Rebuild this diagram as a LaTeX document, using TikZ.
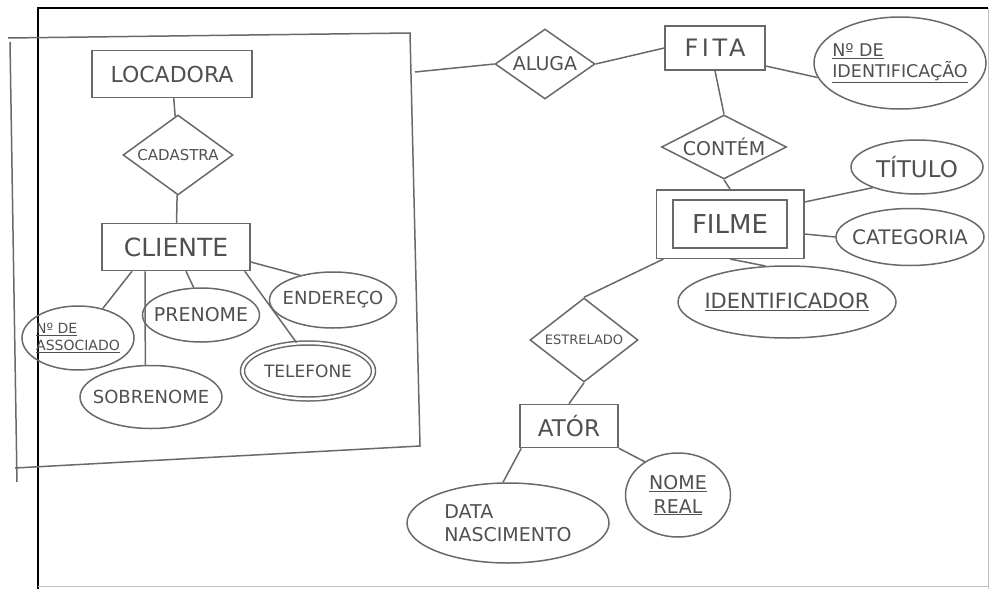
\documentclass[tikz,border=0pt]{standalone}
\usepackage{fontspec}
\setmainfont{DejaVu Sans}
\usetikzlibrary{shapes.geometric,fit}
\definecolor{pencil}{RGB}{105,105,105}
\definecolor{ink}{RGB}{80,80,80}
\newcommand\fsz[2]{\fontsize{#1}{#2}\selectfont}
\begin{document}
\begin{tikzpicture}[x=1pt,y=-1pt,
  base/.style={draw=pencil, line width=1.5pt, text=ink, inner sep=0pt, align=center},
  ent/.style={base, rectangle},
  rel/.style={base, diamond},
  att/.style={base, ellipse, inner xsep=-25pt, inner ysep=-15pt},
  conn/.style={draw=pencil, line width=1.5pt},
  frame/.style={draw=black, line width=1.3pt},
  faint/.style={draw=black!25, line width=0.8pt}]
\useasboundingbox (0,0) rectangle (990,589);
\fill[white] (0,0) rectangle (990,589);

% page frame
\draw[frame] (38,589) -- (38,8) -- (988,8);
\draw[faint] (988,8) -- (988,589);
\draw[faint] (38,586) -- (988,586);

% aggregation box (pencil)
\draw[conn] (8,38) -- (410,33) -- (420,446) -- (15,468);
\draw[conn] (10,42) -- (17,482);
\coordinate (aggE) at (415,72);

% left part
\node[ent, minimum width=160, minimum height=47, font=\fsz{22}{24}] (loc) at (172,74) {LOCADORA};
\node[rel, minimum width=110, minimum height=80, aspect=1.375, font=\fsz{15}{16}] (cad) at (178,155) {CADASTRA};
\node[ent, minimum width=148, minimum height=47, font=\fsz{25}{27}] (cli) at (176,247) {CLIENTE};
\node[att, minimum width=112, minimum height=64, align=left, font=\fsz{14}{17}] (assoc) at (78,338) {\underline{Nº DE}\\\underline{ASSOCIADO}};
\node[att, minimum width=117, minimum height=54, font=\fsz{19}{20}] (pre) at (201,315) {PRENOME};
\node[att, minimum width=127, minimum height=56, font=\fsz{18}{20}] (endr) at (333,300) {ENDEREÇO};
\node[att, minimum width=131, minimum height=56, double=white, double distance=2.5pt, font=\fsz{17}{19}] (tel) at (308,371) {TELEFONE};
\node[att, minimum width=142, minimum height=63, font=\fsz{18}{20}] (sob) at (151,397) {SOBRENOME};

\draw[conn] (loc) -- (cad);
\draw[conn] (cad) -- (cli);
\draw[conn] ([xshift=-44pt]cli.south) -- (assoc.50);
\draw[conn] ([xshift=-31pt]cli.south) -- (sob.100);
\draw[conn] ([xshift=10pt]cli.south) -- (pre.105);
\draw[conn] ([xshift=-6pt]cli.south east) -- (tel.112);
\draw[conn] ([yshift=-15pt]cli.east) -- (endr.143);

% right part
\node[rel, minimum width=100, minimum height=70, aspect=1.43, font=\fsz{19}{20}] (alu) at (545,64) {ALUGA};
\node[ent, minimum width=100, minimum height=44, font=\fsz{24}{26}\addfontfeatures{LetterSpace=15}] (fita) at (715,48) {FITA};
\node[att, minimum width=172, minimum height=92, align=left, font=\fsz{17.5}{21}] (nid) at (900,63) {\underline{Nº DE}\\\underline{IDENTIFICAÇÃO}};
\node[rel, minimum width=125, minimum height=64, aspect=1.95, font=\fsz{19}{20}] (con) at (724,147) {CONTÉM};
\node[ent, minimum width=114, minimum height=48, font=\fsz{26}{28}] (filme) at (730,224) {FILME};
\node[ent, fit=(filme), inner xsep=16pt, inner ysep=9.5pt] (filmeo) {};
\node[att, minimum width=132, minimum height=54, font=\fsz{23}{25}] (tit) at (917,167) {TÍTULO};
\node[att, minimum width=148, minimum height=57, font=\fsz{20}{22}] (cat) at (910,237) {CATEGORIA};
\node[att, minimum width=218, minimum height=72, font=\fsz{21}{23}] (idf) at (787,302) {\underline{IDENTIFICADOR}};
\node[rel, minimum width=108, minimum height=84, aspect=1.29, font=\fsz{13}{14}] (est) at (584,340) {ESTRELADO};
\node[ent, minimum width=98, minimum height=43, font=\fsz{23}{25}] (ator) at (569,426) {ATÓR};
\node[att, minimum width=202, minimum height=80, align=left, font=\fsz{19}{23}] (data) at (508,523) {DATA\\NASCIMENTO};
\node[att, minimum width=105, minimum height=84, font=\fsz{19}{24}] (nome) at (678,495) {\underline{NOME}\\\underline{REAL}};

\draw[conn] (alu.west) -- (aggE);
\draw[conn] (alu.east) -- (fita.west);
\draw[conn] ([yshift=-18pt]fita.east) -- (nid.190);
\draw[conn] (fita.south) -- (con.north);
\draw[conn] (con.south) -- (filmeo.north);
\draw[conn] ([yshift=-13pt]filmeo.north east) -- (tit.205);
\draw[conn] ([yshift=-10pt]filmeo.east) -- (cat.west);
\draw[conn] (filmeo.south) -- (idf.121);
\draw[conn] ([xshift=8pt]filmeo.south west) -- (est.north);
\draw[conn] (est.south) -- (ator.north);
\draw[conn] ([xshift=2pt]ator.south west) -- (data.97);
\draw[conn] (ator.south east) -- (nome.135);
\end{tikzpicture}
\end{document}
